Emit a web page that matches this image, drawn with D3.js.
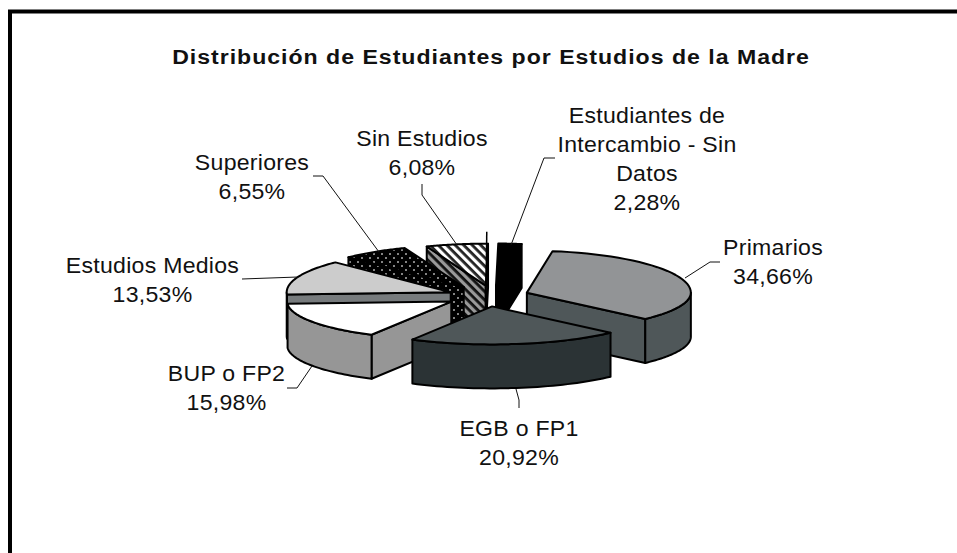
<!DOCTYPE html>
<html>
<head>
<meta charset="utf-8">
<script src="https://d3js.org/d3.v7.min.js"></script>
<style>
	html, body { margin: 0; padding: 0; background: #fff; }
	text { font-family: "Liberation Sans", Arial, sans-serif; fill: #111; }
</style>
</head>
<body>
<svg id="chart" width="957" height="553"></svg>
<script>
const chartTitle = "Distribución de Estudiantes por Estudios de la Madre";
const categories = ["Primarios", "EGB o FP1", "BUP o FP2", "Estudios Medios", "Superiores", "Sin Estudios", "Estudiantes de Intercambio - Sin Datos"];
const percents = [34.66, 20.92, 15.98, 13.53, 6.55, 6.08, 2.28];
const percentLabels = ["34,66%", "20,92%", "15,98%", "13,53%", "6,55%", "6,08%", "2,28%"];

const width = 957, height = 553;
const cx = 486, cy = 296;        // centre of the pie before exploding
const rx = 164, ryBack = 42, ryFront = 38, depth = 44;
const explode = 41;
const firstAngle = 9 * Math.PI / 180;
const nudge = [2, 0, 0, 3, 0, 7, 6.5];    // the picture's slices aren't exploded evenly
const paintOrder = [6, 5, 4, 3, 0, 2, 1];

const topFill = ["#929496", "#4f5759", "#ffffff", "#cccccc", "url(#dots)", "url(#stripes)", "#000000"];
const sideFill = ["#4f5759", "#2b3335", "#969696", "#777b7d", "url(#dots)", "url(#darkStripes)", "#000000"];

// label anchor (centre x, first baseline y), and the leader lines
const labelLines = [["Primarios"], ["EGB o FP1"], ["BUP o FP2"], ["Estudios Medios"], ["Superiores"], ["Sin Estudios"], ["Estudiantes de", "Intercambio - Sin", "Datos"]];
const labelPos = [[773, 255], [519, 436], [226.5, 381], [152.5, 273], [252, 170], [422, 146], [647, 122.7]];
const leaders = [
	[[720, 262], [710, 262], [685, 278]],
	[[519, 408], [519, 400], [516, 389]],
	[[287, 388], [297, 388], [312, 366]],
	[[242, 279], [298, 277]],
	[[313, 176], [323, 176], [379, 252]],
	[[422, 184], [422, 195], [457, 245]],
	[[555, 158], [544, 158], [511, 245]]
];

const svg = d3.select("#chart");
const defs = svg.append("defs");

const dots = defs.append("pattern").attr("id", "dots").attr("patternUnits", "userSpaceOnUse")
	.attr("width", 8).attr("height", 8);
dots.append("rect").attr("width", 8).attr("height", 8).attr("fill", "#000");
dots.append("circle").attr("cx", 2).attr("cy", 2).attr("r", 0.95).attr("fill", "#bbb");
dots.append("circle").attr("cx", 6).attr("cy", 6).attr("r", 0.95).attr("fill", "#bbb");

function stripes(id, bg, fg) {
	const p = defs.append("pattern").attr("id", id).attr("patternUnits", "userSpaceOnUse")
		.attr("width", 6).attr("height", 6).attr("patternTransform", "rotate(45)");
	p.append("rect").attr("width", 6).attr("height", 6).attr("fill", bg);
	p.append("rect").attr("width", 6).attr("height", 2.8).attr("fill", fg);
}
stripes("stripes", "#fff", "#222");
stripes("darkStripes", "#999", "#111");

// frame
svg.append("path").attr("d", "M10,553V11.5H957").attr("fill", "none").attr("stroke", "#000").attr("stroke-width", 4);

// the picture's text is stretched sideways a bit
svg.append("text").attr("transform", "translate(491,64) scale(1.1,1)").attr("text-anchor", "middle")
	.attr("font-size", 21).attr("font-weight", "bold").style("letter-spacing", "0.9px").text(chartTitle);

const pie = d3.pie().sort(null).startAngle(firstAngle).endAngle(firstAngle + 2 * Math.PI);
const arcs = pie(percents);

// angle measured clockwise from north, projected on the squashed ellipse
// (near half a little flatter than the far half, like the chart's perspective)
function project(a, o, dz) {
	const c = Math.cos(a);
	return [o[0] + rx * Math.sin(a), o[1] - (c > 0 ? ryBack : ryFront) * c + dz];
}
function apex(i) {
	const mid = (arcs[i].startAngle + arcs[i].endAngle) / 2;
	return [cx + explode * Math.sin(mid) + nudge[i], cy - explode * (ryBack / rx) * Math.cos(mid)];
}
function rimPoints(a0, a1, o, dz) {
	return d3.range(0, 41).map(k => project(a0 + (a1 - a0) * k / 40, o, dz));
}
const line = d3.line();

function drawSlice(i) {
	const d = arcs[i], o = apex(i), a0 = d.startAngle, a1 = d.endAngle;
	const g = svg.append("g").attr("stroke", "#000").attr("stroke-width", 2).attr("stroke-linejoin", "round");
	const radial = a => {
		const p = project(a, o, 0);
		g.append("path").attr("fill", sideFill[i])
			.attr("d", line([o, p, [p[0], p[1] + depth], [o[0], o[1] + depth]]) + "Z");
	};
	// side walls only when they face the viewer
	if (Math.cos(a0 - Math.PI / 2) < 0) radial(a0);
	if (Math.cos(a1 + Math.PI / 2) < 0) radial(a1);
	// outer wall, front half of the ellipse only
	const f0 = Math.max(a0, Math.PI / 2), f1 = Math.min(a1, 3 * Math.PI / 2);
	if (f1 > f0) {
		const pts = rimPoints(f0, f1, o, 0).concat(rimPoints(f1, f0, o, depth));
		g.append("path").attr("fill", sideFill[i]).attr("d", line(pts) + "Z");
	}
	g.append("path").attr("fill", topFill[i])
		.attr("d", line([o].concat(rimPoints(a0, a1, o, 0))) + "Z");
}
paintOrder.forEach(drawSlice);

// thin spike on the right edge of Sin Estudios
const sinApex = apex(5);
svg.append("path").attr("d", line([[sinApex[0] + 1, sinApex[1] - 54], [sinApex[0], sinApex[1] + 22]]))
	.attr("stroke", "#000").attr("stroke-width", 1.5).attr("fill", "none");

// leaders
leaders.forEach(l => {
	svg.append("path").attr("d", line(l)).attr("fill", "none").attr("stroke", "#111").attr("stroke-width", 1);
});

// labels
categories.forEach((c, i) => {
	const t = svg.append("text").attr("text-anchor", "middle").attr("font-size", 22).style("letter-spacing", "0.25px")
		.attr("transform", "translate(" + labelPos[i][0] + "," + labelPos[i][1] + ") scale(1.05,1)");
	labelLines[i].concat([percentLabels[i]]).forEach((s, k) => {
		t.append("tspan").attr("x", 0).attr("y", k * 29).text(s);
	});
});
</script>
</body>
</html>
